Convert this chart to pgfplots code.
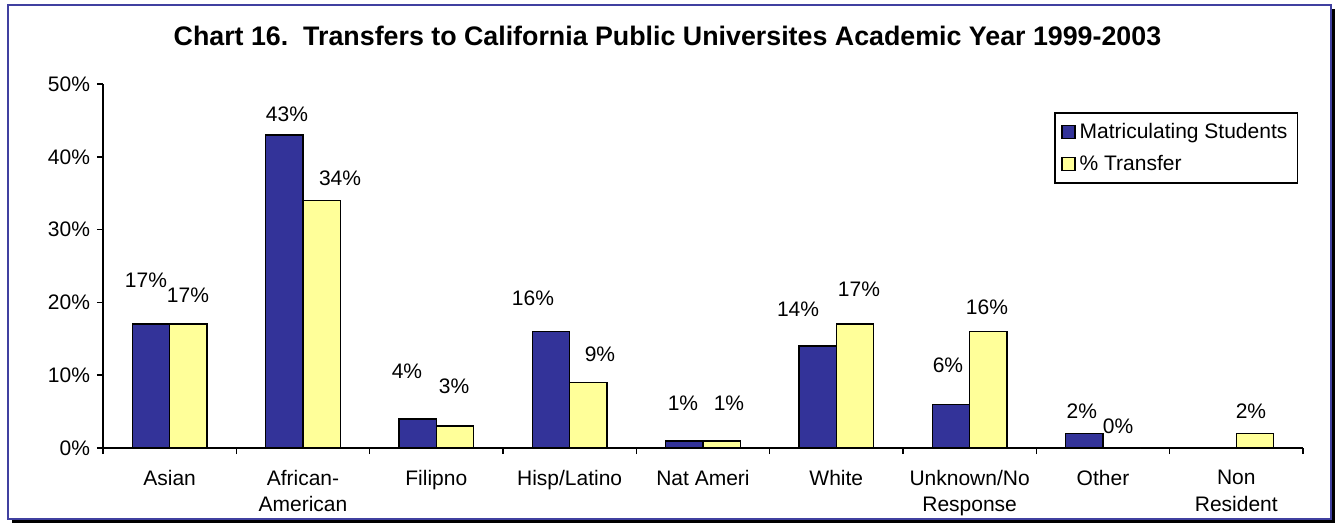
\documentclass[border=0pt]{standalone}
\usepackage{fontspec}
\setmainfont{Liberation Sans}
\usepackage{pgfplots}
\pgfplotsset{compat=1.18}
\definecolor{navy}{HTML}{333399}
\definecolor{pale}{HTML}{FFFF99}
\definecolor{framec}{HTML}{4040A0}
\begin{document}
\begin{tikzpicture}
\useasboundingbox (-51.5pt,-39.5pt) rectangle (618.5pt,224pt);
\fill[black] (-45.5pt,-37.5pt) rectangle (616pt,219.5pt);
\filldraw[draw=framec, fill=white, line width=1.2pt] (-47.5pt,-35.5pt) rectangle (614pt,221.5pt);
\begin{axis}[
  scale only axis,
  width=600pt, height=182pt,
  xmin=-0.5, xmax=8.5,
  ymin=0, ymax=50,
  axis x line=bottom, axis y line=left,
  axis line style={-, line width=0.8pt, black},
  every outer x axis line/.append style={-},
  every outer y axis line/.append style={-},
  tick align=outside,
  major tick length=3pt,
  tick style={line width=0.8pt, black},
  xtick={-0.5,0.5,...,8.5},
  x tick label as interval,
  xticklabels={Asian,African-\\American,Filipno,Hisp/Latino,Nat Ameri,White,Unknown/No\\Response,Other,Non\\Resident},
  xticklabel style={align=center, yshift=-4.5pt, font=\fontsize{10.5}{13.25}\selectfont},
  ytick={0,10,...,50},
  yticklabel={\pgfmathprintnumber{\tick}\%},
  yticklabel style={font=\fontsize{10.5}{12}\selectfont},
  /pgf/number format/assume math mode=true,
  title={Chart 16.\ \ Transfers to California Public Universites Academic Year 1999-2003},
  title style={at={(axis description cs:0.4704,1.098)}, anchor=center, font=\bfseries\fontsize{13.4}{16}\selectfont},
  legend style={at={(axis description cs:0.996,0.923)}, anchor=north east, draw=black, line width=0.8pt,
    font=\fontsize{10.5}{12}\selectfont, row sep=3pt, inner xsep=3pt, inner ysep=3pt, cells={anchor=west}},
  legend image code/.code={\draw[#1, line width=0.8pt] (0pt,-3.25pt) rectangle (6.5pt,3.25pt);},
]
\addplot[ybar, bar width=0.28, bar shift=-0.14, fill=navy, draw=black, line width=0.8pt]
  coordinates {(0,17) (1,43) (2,4) (3,16) (4,1) (5,14) (6,6) (7,2)};
\addlegendentry{Matriculating Students}
\addplot[ybar, bar width=0.28, bar shift=0.14, fill=pale, draw=black, line width=0.8pt]
  coordinates {(0,17) (1,34) (2,3) (3,9) (4,1) (5,17) (6,16) (7,0) (8,2)};
\addlegendentry{\% Transfer}
\addplot[forget plot, only marks, mark=*, mark size=0pt, mark options={draw=none, fill=none},
  nodes near coords, point meta=explicit symbolic,
  nodes near coords style={anchor=center, inner sep=0pt, font=\fontsize{10.5}{12}\selectfont}]
  table[meta=label] {
x y label
-0.178 23.1 17\%
0.88 45.9 43\%
1.78 10.6 4\%
2.725 20.5 16\%
3.85 6.2 1\%
4.713 19.0 14\%
5.837 11.4 6\%
6.842 5.1 2\%
0.137 21.0 17\%
1.278 37.1 34\%
2.133 8.5 3\%
3.227 12.9 9\%
4.195 6.2 1\%
5.17 21.8 17\%
6.13 19.4 16\%
7.113 3.0 0\%
8.11 5.1 2\%
};
\end{axis}
\end{tikzpicture}
\end{document}
